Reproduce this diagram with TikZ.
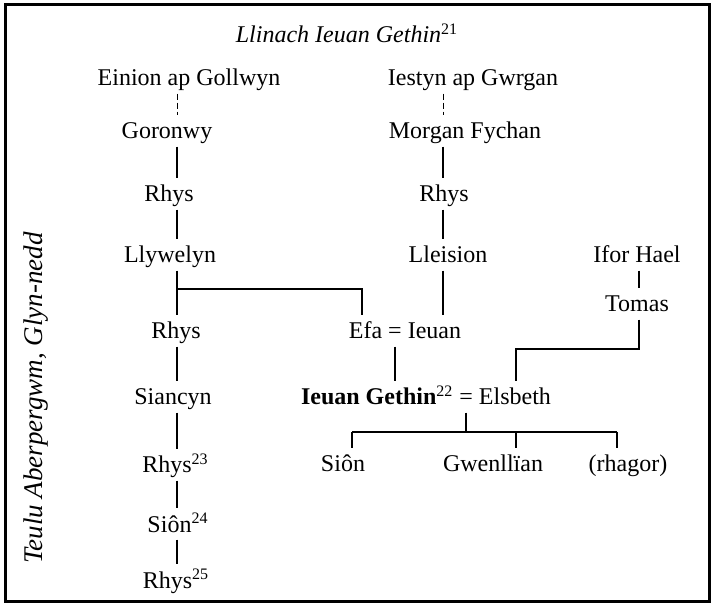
\documentclass[tikz,border=0pt]{standalone}
\usepackage{fontspec}
\setmainfont{Liberation Serif}
\begin{document}
\begin{tikzpicture}[x=0.5pt,y=-0.5pt,
  person/.style={anchor=base, inner xsep=0pt, inner ysep=3.6pt, text height=8pt, text depth=0pt, font=\fontsize{12}{14}\selectfont},
  link/.style={line width=1.1pt},
  dlink/.style={line width=0.5pt, dash pattern=on 3pt off 1.5pt},
  frame/.style={line width=1.5pt}]
\useasboundingbox (0,0) rectangle (711,603);
\draw[frame] (5.5,5) rectangle (709,601);
% column coordinates
\coordinate (cL) at (177,0);
\coordinate (cM) at (443,0);
\coordinate (cE) at (362,0);
\coordinate (cQ) at (395,0);
\coordinate (cT) at (639,0);
\coordinate (cS) at (516,0);
\coordinate (cG) at (466,0);
\coordinate (cC1) at (352,0);
\coordinate (cC3) at (617,0);
\coordinate (hA) at (0,289);
\coordinate (hB) at (0,349);
\coordinate (hC) at (0,432);
% title and side label
\node[anchor=base, font=\fontsize{12}{14}\selectfont\itshape] (title) at (347,43) {Llinach Ieuan Gethin\textsuperscript{\upshape 21}};
\node[anchor=base, rotate=90, font=\fontsize{13.5}{16}\selectfont\itshape] (side) at (42,398) {Teulu Aberpergwm, Glyn-nedd};
% left line
\node[person] (einion) at (189,86) {Einion ap Gollwyn};
\node[person] (goronwy) at (167,139) {Goronwy};
\node[person] (rhysA) at (169,202) {Rhys};
\node[person] (llywelyn) at (170,263) {Llywelyn};
\node[person] (rhysB) at (176,339) {Rhys};
\node[person] (siancyn) at (173,405) {Siancyn};
\node[person] (rhysC) at (175.5,473) {Rhys\textsuperscript{23}};
\node[person] (sionB) at (178,532) {Siôn\textsuperscript{24}};
\node[person] (rhysD) at (176,588) {Rhys\textsuperscript{25}};
% middle line
\node[person] (iestyn) at (473,86) {Iestyn ap Gwrgan};
\node[person] (morgan) at (465,139) {Morgan Fychan};
\node[person] (rhysM) at (444,202) {Rhys};
\node[person] (lleision) at (448,263) {Lleision};
\node[person] (efa) at (405,339) {Efa = Ieuan};
% right
\node[person] (ifor) at (637,263) {Ifor Hael};
\node[person] (tomas) at (637,312) {Tomas};
\node[person] (gethin) at (426,405) {\textbf{Ieuan Gethin}\textsuperscript{22} = Elsbeth};
% children
\node[person] (sion) at (343,472) {Siôn};
\node[person] (gwenllian) at (493,472) {Gwenllïan};
\node[person] (rhagor) at (628,472) {(rhagor)};
% connectors, left
\draw[dlink] (cL |- einion.south) -- (cL |- goronwy.north);
\draw[link] (cL |- goronwy.south) -- (cL |- rhysA.north);
\draw[link] (cL |- rhysA.south) -- (cL |- llywelyn.north);
\draw[link] (cL |- llywelyn.south) -- (cL |- rhysB.north);
\draw[link] (cL |- hA) -| (cE |- efa.north);
\draw[link] (cL |- rhysB.south) -- (cL |- siancyn.north);
\draw[link] (cL |- siancyn.south) -- (cL |- rhysC.north);
\draw[link] (cL |- rhysC.south) -- (cL |- sionB.north);
\draw[link] (cL |- sionB.south) -- (cL |- rhysD.north);
% connectors, middle
\draw[dlink] (cM |- iestyn.south) -- (cM |- morgan.north);
\draw[link] (cM |- morgan.south) -- (cM |- rhysM.north);
\draw[link] (cM |- rhysM.south) -- (cM |- lleision.north);
\draw[link] (cM |- lleision.south) -- (cM |- efa.north);
\draw[link] (cQ |- efa.south) -- (cQ |- gethin.north);
% connectors, right
\draw[link] (cT |- ifor.south) -- (cT |- tomas.north);
\draw[link] (cT |- tomas.south) -- (cT |- hB) -| (cS |- gethin.north);
% children
\draw[link] (cG |- gethin.south) -- (cG |- hC);
\draw[link] (cC1 |- hC) -- (cC3 |- hC);
\draw[link] (cC1 |- hC) -- (cC1 |- sion.north);
\draw[link] (cS |- hC) -- (cS |- gwenllian.north);
\draw[link] (cC3 |- hC) -- (cC3 |- rhagor.north);
\end{tikzpicture}
\end{document}
